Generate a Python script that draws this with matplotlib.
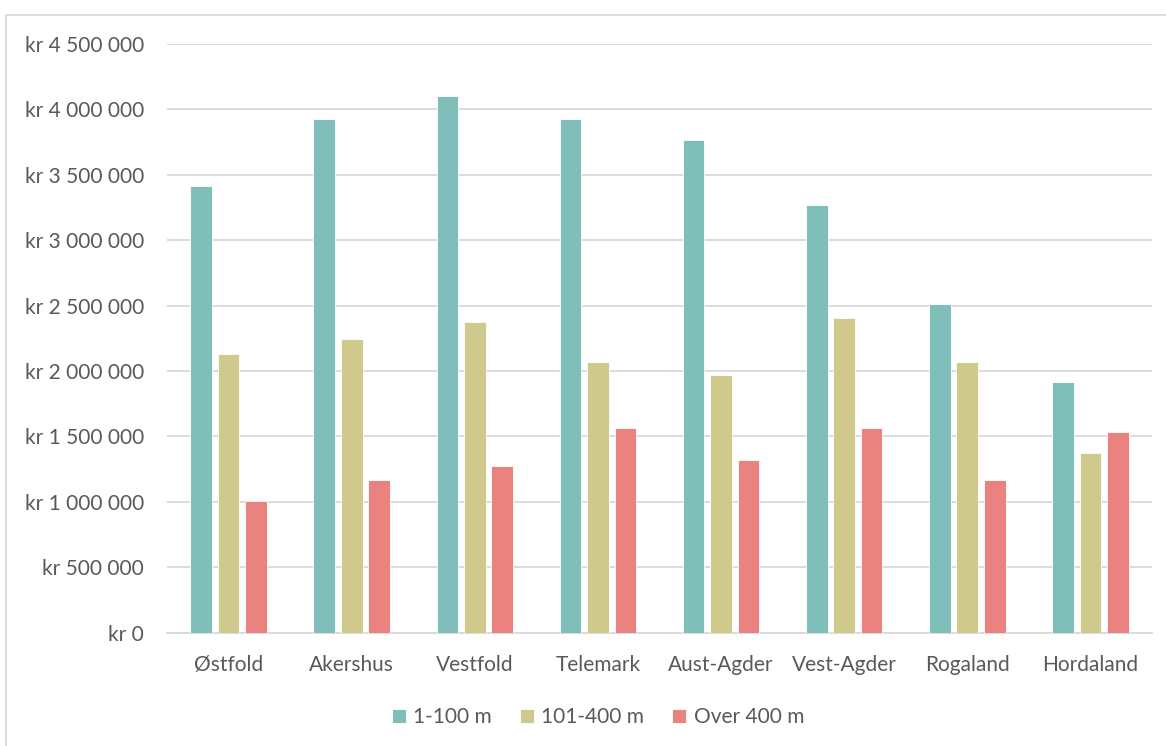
import numpy as np
import matplotlib
matplotlib.use("Agg")
import matplotlib.pyplot as plt
from matplotlib.patches import Rectangle
from matplotlib.ticker import FuncFormatter

regions = ["Østfold", "Akershus", "Vestfold", "Telemark", "Aust-Agder",
           "Vest-Agder", "Rogaland", "Hordaland"]
series_names = ["1-100 m", "101-400 m", "Over 400 m"]
low = [3414000, 3929000, 4099000, 3929000, 3765000, 3273000, 2513000, 1916000]
mid = [2132000, 2245000, 2378000, 2071000, 1969000, 2408000, 2069000, 1375000]
high = [1010000, 1168000, 1273000, 1564000, 1319000, 1561000, 1168000, 1536000]
colors = ["#7FBEB9", "#CFC98C", "#EA827F"]
yticks = np.arange(0, 4500001, 500000)

plt.rcParams['font.family'] = ['Lato', 'DejaVu Sans']
text_color = "#595959"

W, H = 1166, 746
fig = plt.figure(figsize=(W / 100, H / 100), dpi=100)
# chart area border, only top and left edges fall inside the image
fig.patches.append(Rectangle((6 / W, -1), 2, 2 - 15 / H, transform=fig.transFigure,
                             fill=False, edgecolor="#D9D9D9", linewidth=1.2))

ax = fig.add_axes([167 / W, 1 - 632.7 / H, (1152 - 167) / W, (632.7 - 44) / H])

x = np.arange(len(regions))
width = 0.176
step = 0.223
for i, (vals, name) in enumerate(zip([low, mid, high], series_names)):
    ax.bar(x + (i - 1) * step, vals, width, color=colors[i], label=name,
           edgecolor="white", linewidth=0.6, zorder=3)

ax.set_xlim(-0.5, len(regions) - 0.5)
ax.set_ylim(0, 4500000)
ax.set_yticks(yticks)


def kr(v, pos):
    s = f"{int(v):,}".replace(",", " ")
    return f"kr {s}"


ax.yaxis.set_major_formatter(FuncFormatter(kr))
ax.set_xticks(x)
ax.set_xticklabels(regions)
ax.tick_params(axis='y', length=0, pad=16.5, labelsize=15, labelcolor=text_color)
ax.tick_params(axis='x', length=0, pad=16, labelsize=15, labelcolor=text_color)
ax.grid(axis='y', color="#D9D9D9", linewidth=1.3, zorder=0)
for s in ["top", "right", "left"]:
    ax.spines[s].set_visible(False)
ax.spines["bottom"].set_color("#D9D9D9")
ax.spines["bottom"].set_linewidth(1.3)

leg = fig.legend(loc="center", bbox_to_anchor=(598 / W, 1 - 717 / H), ncol=3,
                 frameon=False, fontsize=15, handlelength=0.67, handleheight=0.67,
                 handletextpad=0.35, columnspacing=1.35)
for t in leg.get_texts():
    t.set_color(text_color)

fig.savefig("out.png", dpi=100, facecolor="white")
